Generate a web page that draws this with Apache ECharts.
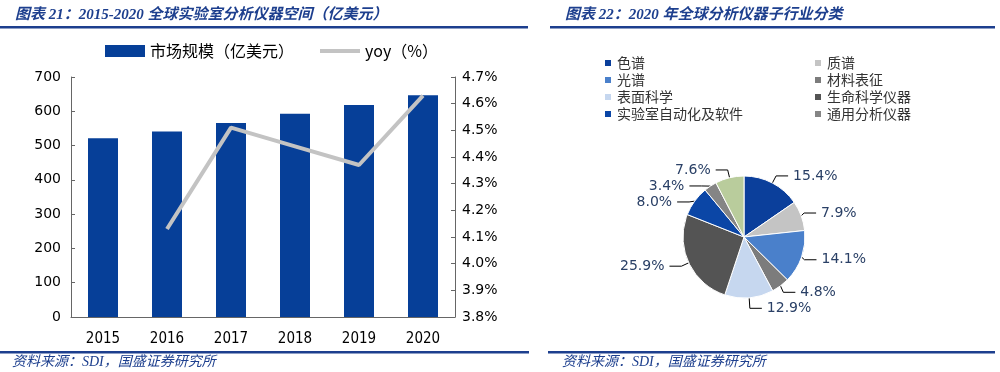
<!DOCTYPE html>
<html><head><meta charset="utf-8">
<script src="https://cdn.jsdelivr.net/npm/echarts@6/dist/echarts.min.js"></script>
<style>html,body{margin:0;padding:0;background:#fff}#c{width:1000px;height:372px}</style>
</head><body><div id="c"></div>
<script>
const years = ['2015', '2016', '2017', '2018', '2019', '2020'];
const marketSize = [521, 541, 566, 593, 618, 647];
const yoy = [null, 4.13, 4.51, 4.44, 4.37, 4.63];
const sectors = ['色谱', '质谱', '光谱', '材料表征', '表面科学', '生命科学仪器', '实验室自动化及软件', '通用分析仪器', '其他'];
const shares = [15.4, 7.9, 14.1, 4.8, 12.9, 25.9, 8.0, 3.4, 7.6];
const barName = '市场规模（亿美元）';
const lineName = 'yoy（%）';
const title1 = '图表 21：2015-2020 全球实验室分析仪器空间（亿美元）';
const title2 = '图表 22：2020 年全球分析仪器子行业分类';
const sourceText = '资料来源：SDI，国盛证券研究所';

const sectorColors = ['#0b3f9b', '#c4c4c4', '#4a80cb', '#7c7c7c', '#c6d7ef', '#545454', '#0b46a6', '#858585', '#b9cc9c'];
const navy = '#1d3f8e';
const cjk = '"Noto Sans CJK SC", "DejaVu Sans", sans-serif';
const titleFont = '"Liberation Serif", "Noto Sans CJK SC", serif';
const numFont = '"DejaVu Sans", "Noto Sans CJK SC", sans-serif';
const lineIcon = 'path://M0,0 L0.01,0 L0.01,0.01 Z M0,4 L40,4 L40,8 L0,8 Z M39.99,12 L40,12 L40,11.99 Z';

const chart = echarts.init(document.getElementById('c'), null, {renderer: 'canvas'});
chart.setOption({
  animation: false,
  backgroundColor: '#fff',
  title: [
    {text: title1, left: 10, top: 3, textStyle: {fontFamily: titleFont, fontStyle: 'italic', fontWeight: 'bold', fontSize: 15, color: navy}},
    {text: title2, left: 560, top: 3, textStyle: {fontFamily: titleFont, fontStyle: 'italic', fontWeight: 'bold', fontSize: 15, color: navy}}
  ],
  legend: [
    {
      data: [{name: barName, icon: 'rect'}, {name: lineName, icon: lineIcon, itemStyle: {color: '#c3c3c3'}}],
      left: 100, top: 38, itemWidth: 40, itemHeight: 12, itemGap: 26,
      textStyle: {fontFamily: cjk, fontSize: 16, color: '#000'}
    },
    {
      data: sectors.filter((s, i) => i % 2 === 0 && i < 8),
      orient: 'vertical', left: 598, top: 51, itemWidth: 8, itemHeight: 8, itemGap: 3, icon: 'rect',
      textStyle: {fontFamily: cjk, fontSize: 14, color: '#333'}
    },
    {
      data: sectors.filter((s, i) => i % 2 === 1 && i < 8),
      orient: 'vertical', left: 808, top: 51, itemWidth: 8, itemHeight: 8, itemGap: 3, icon: 'rect',
      textStyle: {fontFamily: cjk, fontSize: 14, color: '#333'}
    }
  ],
  grid: {left: 71, right: 545, top: 77, bottom: 55, containLabel: false},
  xAxis: {
    type: 'category', data: years,
    axisLine: {lineStyle: {color: '#666', width: 1}},
    axisTick: {inside: true, length: 4, lineStyle: {color: '#666'}},
    axisLabel: {margin: 15, fontFamily: '"DejaVu Sans Condensed", "Liberation Sans", sans-serif', fontSize: 15, color: '#000'}
  },
  yAxis: [
    {
      type: 'value', min: 0, max: 700, interval: 100,
      axisLine: {show: true, lineStyle: {color: '#666'}},
      axisTick: {show: true, inside: true, length: 4, lineStyle: {color: '#666'}},
      splitLine: {show: false},
      axisLabel: {margin: 10, fontFamily: numFont, fontSize: 14, color: '#000'}
    },
    {
      type: 'value', min: 3.8, max: 4.7, interval: 0.1, position: 'right',
      axisLine: {show: true, lineStyle: {color: '#666'}},
      axisTick: {show: true, inside: true, length: 4, lineStyle: {color: '#666'}},
      splitLine: {show: false},
      axisLabel: {margin: 7, fontFamily: numFont, fontSize: 14, color: '#000', formatter: v => v.toFixed(1) + '%'}
    }
  ],
  series: [
    {
      name: barName, type: 'bar', data: marketSize, barWidth: 30,
      itemStyle: {color: '#063f98'}
    },
    {
      name: lineName, type: 'line', yAxisIndex: 1, data: yoy, symbol: 'none',
      lineStyle: {color: '#c3c3c3', width: 4}, itemStyle: {color: '#c3c3c3'}
    },
    {
      type: 'pie', center: [744, 237], radius: 61, startAngle: 90, clockwise: true,
      data: sectors.map((s, i) => ({name: s, value: shares[i], itemStyle: {color: sectorColors[i]}})),
      itemStyle: {borderColor: '#fff', borderWidth: 1},
      label: {
        position: 'outside', fontFamily: numFont, fontSize: 14, color: '#2a4066',
        formatter: p => p.value.toFixed(1) + '%'
      },
      labelLine: {length: 8, length2: 12, lineStyle: {color: '#000', width: 1}}
    }
  ],
  graphic: [
    {type: 'rect', shape: {x: 0, y: 26, width: 528, height: 2.5}, style: {fill: navy}},
    {type: 'rect', shape: {x: 550, y: 26, width: 445, height: 2.5}, style: {fill: navy}},
    {type: 'rect', shape: {x: 0, y: 351, width: 529, height: 2.5}, style: {fill: navy}},
    {type: 'rect', shape: {x: 548, y: 351, width: 447, height: 2.5}, style: {fill: navy}},
    {type: 'text', left: 12, top: 355, style: {text: sourceText, font: 'italic 14px ' + titleFont, fill: navy}},
    {type: 'text', left: 562, top: 355, style: {text: sourceText, font: 'italic 14px ' + titleFont, fill: navy}}
  ]
});
</script></body></html>
